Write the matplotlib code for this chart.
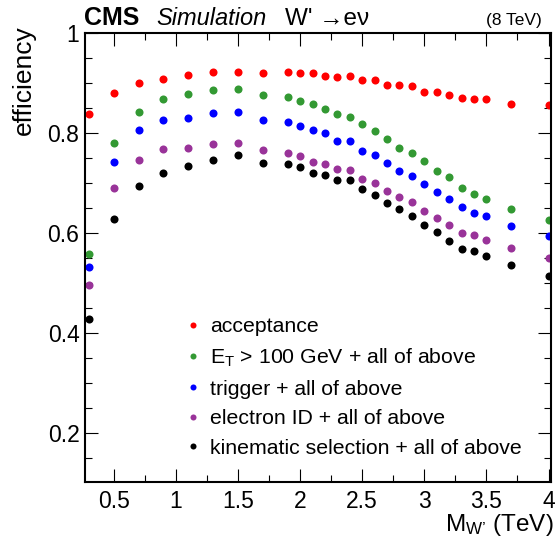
import matplotlib
matplotlib.use("Agg")
import matplotlib.pyplot as plt
from matplotlib.ticker import MultipleLocator

plt.rcParams['font.family'] = ['Liberation Sans', 'DejaVu Sans']
plt.rcParams['mathtext.fontset'] = 'custom'
plt.rcParams['mathtext.rm'] = 'Liberation Sans'
plt.rcParams['mathtext.it'] = 'Liberation Sans:italic'
plt.rcParams['mathtext.default'] = 'regular'

mass = [0.3, 0.5, 0.7, 0.9, 1.1, 1.3, 1.5, 1.7, 1.9, 2.0, 2.1, 2.2, 2.3, 2.4, 2.5,
        2.6, 2.7, 2.8, 2.9, 3.0, 3.1, 3.2, 3.3, 3.4, 3.5, 3.7, 4.0]

acceptance = [0.839, 0.881, 0.901, 0.909, 0.917, 0.923, 0.923, 0.920, 0.922, 0.921,
              0.921, 0.915, 0.913, 0.914, 0.907, 0.907, 0.897, 0.897, 0.895, 0.883,
              0.882, 0.877, 0.871, 0.868, 0.869, 0.858, 0.857]
et_cut = [0.558, 0.781, 0.843, 0.869, 0.879, 0.887, 0.889, 0.876, 0.873, 0.864,
          0.859, 0.849, 0.838, 0.833, 0.818, 0.805, 0.788, 0.771, 0.760, 0.744,
          0.724, 0.712, 0.691, 0.679, 0.669, 0.649, 0.626]
trigger = [0.532, 0.743, 0.806, 0.827, 0.831, 0.841, 0.843, 0.827, 0.823, 0.814,
           0.807, 0.800, 0.784, 0.784, 0.765, 0.756, 0.741, 0.725, 0.714, 0.698,
           0.682, 0.669, 0.652, 0.641, 0.634, 0.615, 0.595]
electron_id = [0.497, 0.690, 0.747, 0.768, 0.771, 0.779, 0.781, 0.767, 0.761, 0.755,
               0.743, 0.739, 0.728, 0.727, 0.709, 0.700, 0.685, 0.673, 0.662, 0.645,
               0.631, 0.616, 0.600, 0.597, 0.586, 0.571, 0.551]
kinematic = [0.428, 0.629, 0.694, 0.721, 0.735, 0.747, 0.756, 0.741, 0.738, 0.733,
             0.721, 0.716, 0.706, 0.706, 0.689, 0.676, 0.661, 0.648, 0.635, 0.616,
             0.603, 0.585, 0.568, 0.565, 0.554, 0.537, 0.515]

series = [
    (acceptance, '#ff0000', 'acceptance'),
    (et_cut, '#339933', r'E$_{T}$ > 100 GeV + all of above'),
    (trigger, '#0000ff', 'trigger + all of above'),
    (electron_id, '#993399', 'electron ID + all of above'),
    (kinematic, '#000000', 'kinematic selection + all of above'),
]

W, H = 555, 549
fig = plt.figure(figsize=(W / 100, H / 100), dpi=100)
ax = fig.add_axes([85 / W, 1 - 482 / H, (551 - 85) / W, (482 - 33) / H])

for vals, col, lab in series:
    ax.plot(mass, vals, 'o', color=col, markersize=5.8, markeredgewidth=0, label=lab)

ax.set_xlim(0.268, 4.02)
ax.set_ylim(0.102, 1.0)
ax.xaxis.set_major_locator(MultipleLocator(0.5))
ax.xaxis.set_minor_locator(MultipleLocator(0.25))
ax.yaxis.set_major_locator(MultipleLocator(0.2))
ax.yaxis.set_minor_locator(MultipleLocator(0.05))
ax.tick_params(which='both', direction='in', top=True, right=True, width=0.8, labelsize=16.5)
ax.tick_params(which='major', length=9.5)
ax.tick_params(which='minor', length=5)
ax.tick_params(axis='x', pad=6)
ax.tick_params(axis='y', pad=4)
ax.set_xticks([0.5, 1, 1.5, 2, 2.5, 3, 3.5, 4])
ax.set_xticklabels(['0.5', '1', '1.5', '2', '2.5', '3', '3.5', '4'])
ax.set_yticks([0.2, 0.4, 0.6, 0.8, 1.0])
ax.set_yticklabels(['0.2', '0.4', '0.6', '0.8', '1'])
for s in ax.spines.values():
    s.set_linewidth(1.5)

leg = ax.legend(loc='upper left', bbox_to_anchor=((187 - 85) / (551 - 85), 1 - (317 - 33) / (482 - 33)),
                frameon=False, fontsize=15.3, markerscale=0.75, handlelength=0.6,
                handletextpad=0.5, labelspacing=0.5, borderaxespad=0, borderpad=0)

fig.text(84 / W, 1 - 25 / H, 'CMS', fontsize=18, fontweight='bold', ha='left', va='baseline')
fig.text(156 / W, 1 - 25 / H, 'Simulation', fontsize=17, style='italic', ha='left', va='baseline')
fig.text(285 / W, 1 - 25 / H, "W' \u2192e\u03bd", fontsize=17.5, ha='left', va='baseline')
fig.text(542 / W, 1 - 25 / H, '(8 TeV)', fontsize=12.5, ha='right', va='baseline')

fig.text(24 / W, 1 - 25 / H, 'efficiency', fontsize=19, rotation=90, ha='center', va='top')
fig.text(554 / W, 1 - 531 / H, 'M$_{W\u2019}$ (TeV)', fontsize=17.5, ha='right', va='baseline')

fig.savefig('out.png', dpi=100)
